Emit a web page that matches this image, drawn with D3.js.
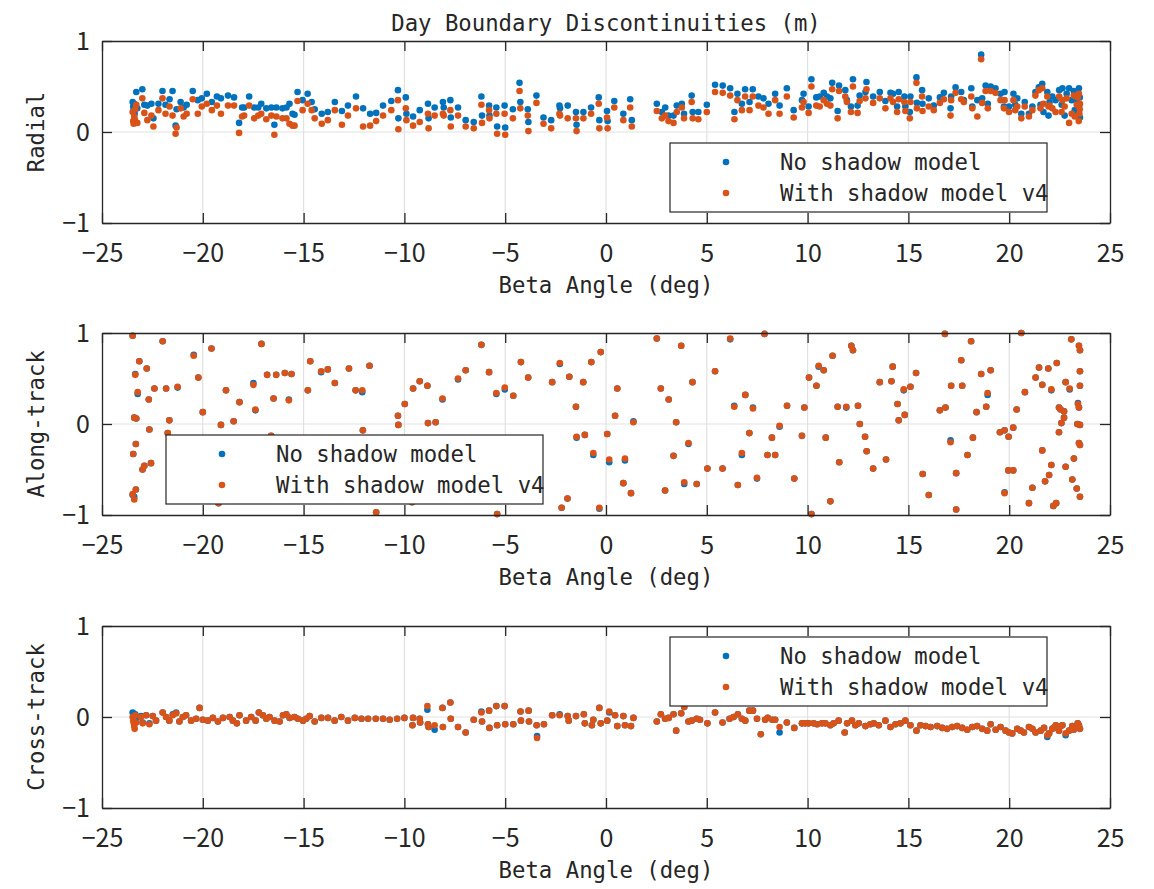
<!DOCTYPE html>
<html>
<head>
<meta charset="utf-8">
<script src="https://cdn.jsdelivr.net/npm/d3@7"></script>
<style>
body { margin: 0; background: #fff; }
text { fill: #262626; }
.lbl { font-family: "DejaVu Sans Mono", "Liberation Mono", monospace; }
.tick text { font-family: "Noto Sans CJK JP", "Noto Sans", sans-serif; }
</style>
</head>
<body>
<svg id="chart" width="1154" height="889"></svg>
<script>
// ---- data ----
const chartTitle = "Day Boundary Discontinuities (m)";
const xLabel = "Beta Angle (deg)";
const seriesNames = ["No shadow model", "With shadow model v4"];
const seriesColors = ["#0072BD", "#D95319"];
const xTicks = [-25, -20, -15, -10, -5, 0, 5, 10, 15, 20, 25];
const yTicks = [-1, 0, 1];

// [beta, no shadow, shadow v4]
const radialPoints = [
  [-23.48,0.33,0.22],[-23.45,0.28,0.12],[-23.43,0.24,0.09],[-23.4,0.31,0.17],[-23.38,0.2,0.14],
  [-23.35,0.26,0.25],[-23.3,0.44,0.3],[-23.25,0.26,0.1],[-23.0,0.47,0.37],[-22.9,0.3,0.21],
  [-22.75,0.29,0.13],[-22.55,0.31,0.18],[-22.45,0.15,0.06],[-22.2,0.31,0.24],[-22.0,0.45,0.37],
  [-21.85,0.3,0.2],[-21.65,0.36,0.28],[-21.5,0.45,0.18],[-21.35,0.07,-0.02],[-21.3,0.25,0.05],
  [-21.1,0.33,0.26],[-20.95,0.27,0.17],[-20.8,0.3,0.2],[-20.5,0.45,0.36],[-20.25,0.35,0.2],
  [-20.05,0.37,0.28],[-19.8,0.42,0.31],[-19.55,0.33,0.24],[-19.3,0.39,0.29],[-19.1,0.37,0.2],
  [-18.75,0.4,0.29],[-18.45,0.38,0.29],[-18.2,0.1,-0.01],[-18.05,0.27,0.17],[-17.95,0.27,0.18],
  [-17.7,0.39,0.29],[-17.45,0.27,0.15],[-17.25,0.27,0.18],[-17.1,0.31,0.2],[-16.85,0.26,0.14],
  [-16.6,0.27,0.18],[-16.45,0.08,-0.03],[-16.35,0.27,0.17],[-16.05,0.26,0.15],[-15.85,0.27,0.15],
  [-15.7,0.31,0.09],[-15.55,0.2,0.07],[-15.45,0.19,0.07],[-15.3,0.44,0.34],[-15.05,0.35,0.24],
  [-14.8,0.42,0.31],[-14.6,0.33,0.24],[-14.45,0.25,0.15],[-14.1,0.2,0.09],[-13.8,0.22,0.13],
  [-13.45,0.33,0.24],[-13.1,0.23,0.08],[-12.8,0.29,0.18],[-12.4,0.39,0.26],[-12.05,0.26,0.06],
  [-11.7,0.2,0.07],[-11.4,0.21,0.12],[-11.06,0.29,0.18],[-10.65,0.34,0.24],[-10.32,0.46,0.35],
  [-10.3,0.15,0.03],[-9.93,0.38,0.26],[-9.9,0.2,0.13],[-9.57,0.17,0.07],[-9.24,0.24,0.11],
  [-8.83,0.31,0.2],[-8.8,0.15,0.04],[-8.5,0.27,0.18],[-8.09,0.33,0.2],[-8.05,0.27,0.18],
  [-7.72,0.35,0.24],[-7.7,0.16,0.06],[-7.34,0.27,0.18],[-6.96,0.13,0.06],[-6.56,0.11,0.04],
  [-6.18,0.39,0.3],[-6.15,0.18,0.1],[-5.8,0.29,0.24],[-5.78,0.18,0.15],[-5.44,0.27,0.2],
  [-5.4,0.06,-0.02],[-5.03,0.29,0.2],[-5.0,0.05,-0.03],[-4.62,0.25,0.15],[-4.29,0.54,0.45],
  [-4.25,0.33,0.26],[-3.88,0.25,0.18],[-3.85,0.11,0.01],[-3.45,0.4,0.32],[-3.1,0.16,0.09],
  [-2.72,0.13,0.04],[-2.31,0.29,0.2],[-2.28,0.26,0.18],[-1.9,0.29,0.15],[-1.49,0.22,0.15],
  [-1.46,0.08,0.01],[-1.12,0.22,0.15],[-0.74,0.27,0.2],[-0.36,0.38,0.31],[-0.33,0.13,0.04],
  [0.05,0.23,0.16],[0.08,0.12,0.04],[0.41,0.34,0.27],[0.86,0.2,0.13],[1.2,0.36,0.27],
  [1.28,0.13,0.06],[2.52,0.31,0.23],[2.77,0.22,0.15],[2.94,0.27,0.18],[3.1,0.18,0.12],
  [3.35,0.18,0.1],[3.51,0.29,0.22],[3.76,0.31,0.27],[3.87,0.2,0.15],[4.25,0.4,0.33],
  [4.3,0.22,0.15],[4.58,0.22,0.14],[5.0,0.3,0.22],[5.41,0.52,0.44],[5.79,0.51,0.43],
  [6.16,0.48,0.4],[6.37,0.22,0.14],[6.52,0.42,0.35],[6.74,0.31,0.24],[6.9,0.47,0.39],
  [7.12,0.33,0.24],[7.28,0.47,0.39],[7.56,0.39,0.29],[7.81,0.37,0.27],[8.06,0.31,0.2],
  [8.39,0.42,0.35],[8.61,0.29,0.2],[8.97,0.48,0.39],[9.31,0.24,0.16],[9.72,0.35,0.27],
  [9.8,0.42,0.33],[10.05,0.28,0.21],[10.19,0.58,0.5],[10.43,0.38,0.29],[10.6,0.39,0.28],
  [10.8,0.43,0.35],[10.96,0.39,0.31],[11.13,0.37,0.29],[11.22,0.54,0.47],[11.49,0.23,0.15],
  [11.56,0.51,0.45],[11.87,0.46,0.39],[11.95,0.35,0.33],[12.15,0.28,0.22],[12.25,0.58,0.5],
  [12.48,0.29,0.21],[12.58,0.4,0.34],[12.87,0.44,0.37],[12.92,0.55,0.47],[13.25,0.39,0.32],
  [13.58,0.44,0.37],[13.86,0.34,0.26],[14.11,0.43,0.37],[14.24,0.42,0.33],[14.44,0.28,0.22],
  [14.52,0.44,0.36],[14.8,0.39,0.33],[14.85,0.28,0.23],[15.07,0.22,0.15],[15.1,0.39,0.33],
  [15.4,0.6,0.54],[15.42,0.32,0.26],[15.68,0.46,0.39],[15.7,0.31,0.23],[16.01,0.37,0.28],
  [16.26,0.29,0.24],[16.56,0.38,0.32],[16.76,0.43,0.36],[17.09,0.26,0.18],[17.12,0.39,0.35],
  [17.34,0.49,0.43],[17.62,0.44,0.36],[17.75,0.35,0.33],[18.12,0.48,0.39],[18.17,0.28,0.26],
  [18.42,0.35,0.17],[18.61,0.85,0.8],[18.66,0.37,0.32],[18.83,0.51,0.45],[18.94,0.31,0.26],
  [19.08,0.5,0.45],[19.32,0.48,0.43],[19.57,0.42,0.35],[19.74,0.28,0.26],[19.77,0.44,0.35],
  [19.99,0.28,0.22],[20.21,0.42,0.35],[20.3,0.3,0.24],[20.4,0.37,0.28],[20.6,0.2,0.15],
  [20.77,0.33,0.28],[20.98,0.2,0.17],[21.15,0.28,0.24],[21.3,0.44,0.4],[21.47,0.49,0.46],
  [21.55,0.3,0.26],[21.64,0.53,0.48],[21.7,0.22,0.31],[21.89,0.44,0.39],[21.95,0.18,0.28],
  [22.0,0.33,0.29],[22.14,0.39,0.26],[22.3,0.35,0.22],[22.48,0.46,0.39],[22.6,0.3,0.22],
  [22.64,0.48,0.35],[22.75,0.18,0.28],[22.85,0.42,0.37],[22.97,0.48,0.1],[23.1,0.35,0.2],
  [23.2,0.45,0.4],[23.25,0.24,0.17],[23.35,0.36,0.3],[23.4,0.2,0.38],[23.45,0.27,0.12],
  [23.46,0.48,0.42],[23.48,0.3,0.2],[23.5,0.38,0.25],[23.51,0.16,0.31]
];

const alongPoints = [
  [-23.48,0.97,0.97],[-23.45,-0.33,-0.33],[-23.48,-0.78,-0.77],[-23.4,-0.8,-0.83],[-23.4,0.07,0.07],
  [-23.35,0.55,0.54],[-23.32,-0.22,-0.22],[-23.32,-0.72,-0.72],[-23.3,0.06,0.06],[-23.23,0.33,0.35],
  [-23.15,0.69,0.69],[-22.99,-0.5,-0.5],[-22.9,-0.46,-0.46],[-22.78,0.61,0.61],[-22.68,0.27,0.27],
  [-22.65,-0.06,-0.06],[-22.57,-0.43,-0.43],[-22.4,0.39,0.39],[-21.99,0.91,0.91],[-21.82,0.39,0.39],
  [-21.74,-0.1,-0.1],[-21.66,0.04,0.04],[-21.25,0.4,0.41],[-20.45,0.76,0.75],[-20.22,0.51,0.51],
  [-20.0,0.13,0.13],[-19.57,0.83,0.83],[-19.22,-0.87,-0.87],[-19.1,-0.01,-0.01],[-18.85,0.37,0.37],
  [-18.47,0.03,0.03],[-18.18,0.24,0.24],[-17.49,0.45,0.43],[-17.39,0.15,0.16],[-17.09,0.88,0.88],
  [-16.81,0.54,0.54],[-16.61,-0.13,-0.13],[-16.49,0.28,0.28],[-16.36,0.54,0.54],[-15.93,0.56,0.56],
  [-15.73,0.27,0.26],[-15.6,0.55,0.55],[-14.79,0.37,0.37],[-14.67,0.69,0.69],[-14.13,0.57,0.58],
  [-13.8,0.6,0.6],[-13.45,0.45,0.45],[-12.75,0.61,0.61],[-12.42,0.37,0.37],[-12.09,0.35,0.37],
  [-12.06,-0.07,-0.07],[-11.73,0.64,0.64],[-11.4,-0.97,-0.97],[-10.32,0.09,0.09],[-10.3,-0.01,-0.01],
  [-9.98,0.22,0.22],[-9.62,-0.86,-0.86],[-9.57,0.39,0.39],[-9.24,0.47,0.47],[-8.86,0.42,0.42],
  [-8.83,0.01,0.01],[-8.45,0.02,0.02],[-8.11,0.27,0.28],[-7.34,0.49,0.5],[-6.96,0.59,0.59],
  [-6.18,0.87,0.87],[-5.8,0.57,0.57],[-5.44,0.33,0.34],[-5.4,-0.99,-0.99],[-5.02,0.38,0.4],
  [-4.6,0.31,0.31],[-4.22,0.68,0.68],[-3.86,0.51,0.51],[-2.67,0.46,0.46],[-2.29,0.66,0.67],
  [-2.2,-0.92,-0.92],[-1.91,-0.82,-0.82],[-1.82,0.52,0.52],[-1.49,0.19,0.19],[-1.46,-0.15,-0.14],
  [-1.13,0.46,0.46],[-1.05,-0.12,-0.12],[-0.73,0.68,0.68],[-0.63,-0.34,-0.32],[-0.33,-0.93,-0.92],
  [-0.26,0.79,0.79],[0.06,-0.11,-0.11],[0.16,-0.42,-0.39],[0.45,0.09,0.09],[0.56,0.39,0.39],
  [0.86,-0.65,-0.65],[0.94,-0.4,-0.38],[1.24,-0.76,-0.76],[1.36,0.03,0.02],[2.52,0.94,0.94],
  [2.72,0.39,0.39],[2.93,-0.73,-0.73],[3.11,0.27,0.27],[3.35,-0.35,-0.35],[3.48,0.02,0.02],
  [3.73,0.86,0.86],[3.88,-0.66,-0.64],[4.09,-0.22,-0.21],[4.29,0.46,0.46],[4.5,-0.66,-0.66],
  [5.03,-0.49,-0.49],[5.41,0.58,0.58],[5.78,-0.49,-0.49],[6.16,0.93,0.94],[6.36,0.2,0.19],
  [6.54,-0.67,-0.67],[6.74,-0.34,-0.32],[6.91,0.32,0.32],[7.11,-0.1,-0.1],[7.29,0.18,0.17],
  [7.49,-0.6,-0.59],[7.86,0.99,0.99],[8.01,-0.34,-0.34],[8.23,-0.15,-0.15],[8.39,-0.34,-0.34],
  [8.61,-0.03,-0.02],[8.98,0.2,0.2],[9.34,-0.6,-0.6],[9.72,-0.13,-0.13],[9.84,0.18,0.18],
  [10.07,0.51,0.51],[10.19,-0.99,-0.99],[10.44,0.42,0.42],[10.55,0.63,0.64],[10.8,0.59,0.59],
  [10.9,-0.15,-0.15],[11.13,-0.85,-0.85],[11.24,0.75,0.75],[11.49,0.19,0.19],[11.57,-0.42,-0.42],
  [11.92,0.18,0.19],[12.17,0.86,0.86],[12.25,0.81,0.81],[12.5,0.2,0.2],[12.59,0.0,0.0],
  [12.85,-0.14,-0.14],[12.93,-0.3,-0.3],[13.25,-0.49,-0.49],[13.58,0.46,0.46],[13.89,-0.39,-0.39],
  [14.16,0.47,0.47],[14.22,0.63,0.63],[14.46,0.22,0.22],[14.52,0.04,0.04],[14.77,0.37,0.38],
  [14.82,0.1,0.1],[15.1,0.41,0.41],[15.38,0.56,0.56],[15.71,-0.55,-0.55],[16.01,-0.78,-0.78],
  [16.56,0.15,0.15],[16.81,0.99,0.99],[16.84,0.18,0.18],[17.09,-0.18,-0.2],[17.12,0.42,0.42],
  [17.37,-0.54,-0.54],[17.37,-0.94,-0.94],[17.62,0.7,0.7],[17.67,0.42,0.42],[17.93,-0.34,-0.34],
  [18.11,0.91,0.91],[18.2,-0.15,-0.15],[18.38,0.13,0.13],[18.61,0.55,0.55],[18.86,0.19,0.19],
  [18.93,0.32,0.34],[19.08,0.59,0.59],[19.54,-0.09,-0.09],[19.77,-0.07,-0.07],[19.77,-0.75,-0.76],
  [19.96,-0.51,-0.51],[19.97,-0.14,-0.14],[20.2,-0.04,-0.04],[20.2,-0.51,-0.51],[20.37,0.16,0.16],
  [20.6,1.0,1.0],[20.78,0.35,0.35],[20.98,-0.87,-0.87],[21.15,-0.7,-0.7],[21.31,0.51,0.51],
  [21.48,0.62,0.62],[21.64,0.43,0.43],[21.64,-0.29,-0.29],[21.78,-0.63,-0.63],[21.94,0.61,0.61],
  [21.98,-0.56,-0.56],[22.09,0.37,0.38],[22.09,-0.45,-0.45],[22.19,-0.9,-0.9],[22.33,-0.87,-0.87],
  [22.36,0.67,0.67],[22.47,0.18,0.18],[22.47,-0.09,-0.09],[22.55,0.16,0.16],[22.59,0.01,0.01],
  [22.72,0.14,0.14],[22.72,0.07,0.07],[22.8,0.46,0.46],[22.8,-0.47,-0.47],[23.0,0.38,0.39],
  [23.08,0.93,0.93],[23.13,-0.61,-0.61],[23.21,-0.38,-0.38],[23.35,-0.71,-0.71],[23.38,0.0,0.0],
  [23.41,0.23,0.22],[23.46,0.86,0.86],[23.51,0.81,0.81],[23.51,0.58,0.58],[23.51,0.42,0.42],
  [23.46,0.18,0.18],[23.51,-0.01,-0.01],[23.46,-0.21,-0.21],[23.51,-0.23,-0.23],[23.51,-0.8,-0.8]
];

const crossPoints = [
  [-23.48,0.05,0.0],[-23.45,0.04,-0.04],[-23.42,0.02,-0.07],[-23.4,0.0,-0.1],[-23.38,-0.02,-0.13],
  [-23.35,0.03,0.02],[-23.3,-0.03,-0.06],[-23.06,0.01,0.0],[-22.98,-0.06,-0.07],[-22.81,0.02,0.02],
  [-22.65,-0.07,-0.08],[-22.48,0.01,0.01],[-22.32,-0.04,-0.04],[-21.99,0.05,0.05],[-21.82,0.0,0.0],
  [-21.66,-0.04,-0.04],[-21.49,0.03,0.02],[-21.32,0.05,0.04],[-21.16,-0.05,-0.05],[-20.99,0.0,0.0],
  [-20.83,0.02,0.02],[-20.58,-0.04,-0.04],[-20.33,-0.02,-0.02],[-20.16,0.1,0.1],[-20.0,-0.03,-0.03],
  [-19.75,-0.04,-0.04],[-19.5,-0.01,-0.01],[-19.25,-0.05,-0.05],[-19.0,-0.01,-0.01],[-18.67,0.0,0.0],
  [-18.51,-0.04,-0.04],[-18.31,-0.07,-0.07],[-18.18,0.02,0.02],[-17.85,-0.04,-0.04],[-17.6,0.0,0.0],
  [-17.38,-0.04,-0.04],[-17.22,0.05,0.05],[-17.02,0.02,0.02],[-16.85,-0.02,-0.02],[-16.69,0.0,0.0],
  [-16.44,-0.04,-0.04],[-16.19,-0.05,-0.05],[-16.02,0.02,0.02],[-15.86,0.03,0.03],[-15.69,-0.01,-0.01],
  [-15.45,0.0,0.0],[-15.28,-0.02,-0.02],[-15.03,-0.04,-0.04],[-14.87,-0.02,-0.02],[-14.7,0.01,0.01],
  [-14.45,-0.05,-0.05],[-14.12,-0.01,-0.01],[-13.79,-0.01,-0.01],[-13.46,-0.04,-0.04],[-13.13,0.0,0.0],
  [-12.8,-0.04,-0.04],[-12.46,-0.01,-0.01],[-12.13,-0.02,-0.02],[-11.8,-0.02,-0.02],[-11.42,-0.02,-0.02],
  [-11.06,-0.02,-0.02],[-10.73,-0.03,-0.03],[-10.36,-0.02,-0.02],[-10.0,-0.01,-0.01],[-9.6,-0.09,-0.09],
  [-9.57,-0.01,-0.01],[-9.24,-0.02,-0.02],[-9.22,-0.06,-0.06],[-8.86,0.08,0.12],[-8.83,-0.08,-0.08],
  [-8.8,-0.11,-0.11],[-8.5,-0.14,-0.09],[-8.11,0.1,0.1],[-8.09,-0.11,-0.11],[-7.72,0.16,0.16],
  [-7.7,-0.02,-0.02],[-7.34,-0.11,-0.11],[-6.96,-0.17,-0.17],[-6.56,-0.03,-0.03],[-6.18,0.06,0.05],
  [-6.15,-0.05,-0.05],[-5.8,0.07,0.07],[-5.78,-0.12,-0.12],[-5.44,0.12,0.12],[-5.4,-0.09,-0.09],
  [-5.03,0.12,0.12],[-5.0,-0.08,-0.08],[-4.6,-0.08,-0.08],[-4.24,0.06,0.06],[-4.22,-0.04,-0.04],
  [-3.84,0.07,0.07],[-3.82,-0.05,-0.05],[-3.44,-0.09,-0.09],[-3.42,-0.21,-0.23],[-3.08,-0.08,-0.08],
  [-2.67,0.02,0.02],[-2.3,0.03,0.02],[-1.9,0.01,0.01],[-1.85,-0.04,-0.04],[-1.49,0.01,0.01],
  [-1.1,0.03,0.03],[-1.05,-0.07,-0.07],[-0.7,-0.09,-0.09],[-0.63,-0.03,-0.03],[-0.33,0.1,0.1],
  [-0.26,-0.07,-0.07],[0.06,-0.04,-0.04],[0.16,0.05,0.06],[0.45,0.02,0.02],[0.56,-0.1,-0.1],
  [0.86,0.01,0.01],[0.94,-0.09,-0.09],[1.24,-0.1,-0.1],[1.36,-0.01,-0.01],[2.52,-0.05,-0.05],
  [2.72,0.03,0.03],[2.93,-0.02,-0.02],[3.11,-0.01,-0.01],[3.35,0.03,0.03],[3.48,-0.15,-0.15],
  [3.73,0.04,0.04],[3.88,0.11,0.11],[4.09,-0.05,-0.05],[4.25,-0.04,-0.04],[4.5,-0.02,-0.02],
  [4.66,-0.03,-0.03],[5.03,-0.07,-0.07],[5.41,0.05,0.05],[5.78,-0.06,-0.06],[6.13,-0.02,-0.02],
  [6.33,0.0,0.0],[6.54,0.03,0.03],[6.74,-0.02,-0.02],[6.91,-0.04,-0.04],[7.11,0.07,0.07],
  [7.29,0.07,0.07],[7.49,-0.02,-0.02],[7.68,-0.19,-0.19],[7.89,-0.03,-0.03],[8.02,-0.01,-0.01],
  [8.25,-0.03,-0.03],[8.39,-0.03,-0.03],[8.61,-0.17,-0.11],[8.97,-0.06,-0.06],[9.34,-0.12,-0.12],
  [9.72,-0.07,-0.07],[9.88,-0.07,-0.07],[10.05,-0.07,-0.07],[10.3,-0.07,-0.07],[10.47,-0.08,-0.08],
  [10.71,-0.07,-0.07],[10.88,-0.07,-0.07],[11.13,-0.09,-0.09],[11.29,-0.07,-0.07],[11.54,-0.04,-0.04],
  [11.84,-0.17,-0.17],[11.96,-0.07,-0.07],[12.2,-0.04,-0.04],[12.37,-0.09,-0.09],[12.54,-0.07,-0.07],
  [12.87,-0.1,-0.1],[13.11,-0.08,-0.08],[13.28,-0.07,-0.07],[13.53,-0.09,-0.09],[13.86,-0.04,-0.04],
  [14.11,-0.11,-0.11],[14.36,-0.08,-0.08],[14.61,-0.07,-0.07],[14.85,-0.04,-0.04],[15.1,-0.09,-0.09],
  [15.4,-0.15,-0.15],[15.6,-0.09,-0.09],[15.85,-0.1,-0.1],[16.1,-0.11,-0.11],[16.43,-0.1,-0.1],
  [16.68,-0.12,-0.12],[16.92,-0.13,-0.13],[17.17,-0.11,-0.11],[17.42,-0.1,-0.1],[17.67,-0.12,-0.12],
  [17.92,-0.14,-0.14],[18.17,-0.11,-0.11],[18.41,-0.1,-0.1],[18.66,-0.13,-0.13],[18.91,-0.15,-0.15],
  [19.08,-0.08,-0.08],[19.33,-0.14,-0.14],[19.57,-0.11,-0.11],[19.82,-0.15,-0.15],[19.99,-0.17,-0.17],
  [20.15,-0.18,-0.18],[20.4,-0.13,-0.13],[20.57,-0.15,-0.15],[20.73,-0.17,-0.17],[20.98,-0.11,-0.11],
  [21.15,-0.13,-0.13],[21.31,-0.17,-0.17],[21.56,-0.15,-0.15],[21.73,-0.12,-0.12],[21.89,-0.22,-0.2],
  [21.98,-0.18,-0.18],[22.14,-0.13,-0.13],[22.31,-0.09,-0.09],[22.47,-0.15,-0.15],[22.64,-0.09,-0.09],
  [22.8,-0.2,-0.18],[22.97,-0.15,-0.15],[23.13,-0.1,-0.1],[23.3,-0.11,-0.11],[23.46,-0.09,-0.09],
  [23.51,-0.13,-0.13],[22.2,-0.12,-0.12],[22.55,-0.1,-0.1],[23.2,-0.14,-0.14],[23.4,-0.07,-0.07]
];

// ---- layout ----
const panels = [
  {label: "Radial",      points: radialPoints, top: 41,  legend: {x: 670, y: 143}},
  {label: "Along-track", points: alongPoints,  top: 333, legend: {x: 166, y: 435}},
  {label: "Cross-track", points: crossPoints,  top: 626, legend: {x: 670, y: 637}}
];
const plotLeft = 102, plotRight = 1110, plotH = 182;
const tickFont = 25;
const labelFont = 22.3;
const axisColor = "#262626";
const gridColor = "#e1e1e1";

const svg = d3.select("#chart");
svg.append("rect").attr("width", 1154).attr("height", 889).attr("fill", "#fff");

const x = d3.scaleLinear().domain([-25, 25]).range([plotLeft, plotRight]);

svg.append("text")
    .attr("class", "lbl")
    .attr("x", (plotLeft + plotRight) / 2)
    .attr("y", 31)
    .attr("text-anchor", "middle")
    .attr("font-size", labelFont)
    .text(chartTitle);

panels.forEach(function(p) {
    const y = d3.scaleLinear().domain([-1, 1]).range([p.top + plotH, p.top]);
    const g = svg.append("g");

    // grid
    g.selectAll(".vgrid")
        .data(xTicks.slice(1, -1))
        .enter().append("line")
        .attr("x1", d => x(d)).attr("x2", d => x(d))
        .attr("y1", p.top).attr("y2", p.top + plotH)
        .attr("stroke", gridColor).attr("stroke-width", 1.2);
    g.selectAll(".hgrid")
        .data(yTicks.slice(1, -1))
        .enter().append("line")
        .attr("x1", plotLeft).attr("x2", plotRight)
        .attr("y1", d => y(d)).attr("y2", d => y(d))
        .attr("stroke", gridColor).attr("stroke-width", 1.2);

    // points, one series after the other
    seriesNames.forEach(function(name, si) {
        g.append("g")
            .selectAll("circle")
            .data(p.points)
            .enter().append("circle")
            .attr("cx", d => x(d[0]))
            .attr("cy", d => y(d[si + 1]))
            .attr("r", 3.3)
            .attr("fill", seriesColors[si]);
    });

    // axes, ticks point inwards
    const fmt = d => d3.format("")(d);
    g.append("g")
        .attr("transform", "translate(0," + (p.top + plotH) + ")")
        .call(d3.axisBottom(x).tickValues(xTicks).tickSizeInner(-10).tickSizeOuter(0).tickPadding(21).tickFormat(fmt));
    g.append("g")
        .attr("transform", "translate(0," + p.top + ")")
        .call(d3.axisTop(x).tickValues(xTicks).tickSizeInner(-10).tickSizeOuter(0).tickFormat(""));
    g.append("g")
        .attr("transform", "translate(" + plotLeft + ",0)")
        .call(d3.axisLeft(y).tickValues(yTicks).tickSizeInner(-10).tickSizeOuter(0).tickPadding(12).tickFormat(fmt));
    g.append("g")
        .attr("transform", "translate(" + plotRight + ",0)")
        .call(d3.axisRight(y).tickValues(yTicks).tickSizeInner(-10).tickSizeOuter(0).tickFormat(""));

    g.selectAll(".domain, .tick line").attr("stroke", axisColor).attr("stroke-width", 1.3);
    g.selectAll(".tick text")
        .attr("font-size", tickFont)
        .attr("font-family", null)
        .attr("fill", axisColor);

    // labels
    g.append("text")
        .attr("class", "lbl")
        .attr("x", (plotLeft + plotRight) / 2)
        .attr("y", p.top + plotH + 70)
        .attr("text-anchor", "middle")
        .attr("font-size", labelFont)
        .text(xLabel);
    g.append("text")
        .attr("class", "lbl")
        .attr("transform", "translate(44," + (p.top + plotH / 2) + ") rotate(-90)")
        .attr("text-anchor", "middle")
        .attr("font-size", labelFont)
        .text(p.label);

    // legend
    const lg = g.append("g").attr("transform", "translate(" + p.legend.x + "," + p.legend.y + ")");
    lg.append("rect")
        .attr("width", 377).attr("height", 69)
        .attr("fill", "#fff")
        .attr("stroke", axisColor).attr("stroke-width", 1.2);
    seriesNames.forEach(function(name, si) {
        lg.append("circle")
            .attr("cx", 56).attr("cy", 19 + si * 31)
            .attr("r", 3.3)
            .attr("fill", seriesColors[si]);
        lg.append("text")
            .attr("class", "lbl")
            .attr("x", 110).attr("y", 19 + si * 31)
            .attr("dy", "0.36em")
            .attr("font-size", labelFont)
            .text(name);
    });
});
</script>
</body>
</html>
